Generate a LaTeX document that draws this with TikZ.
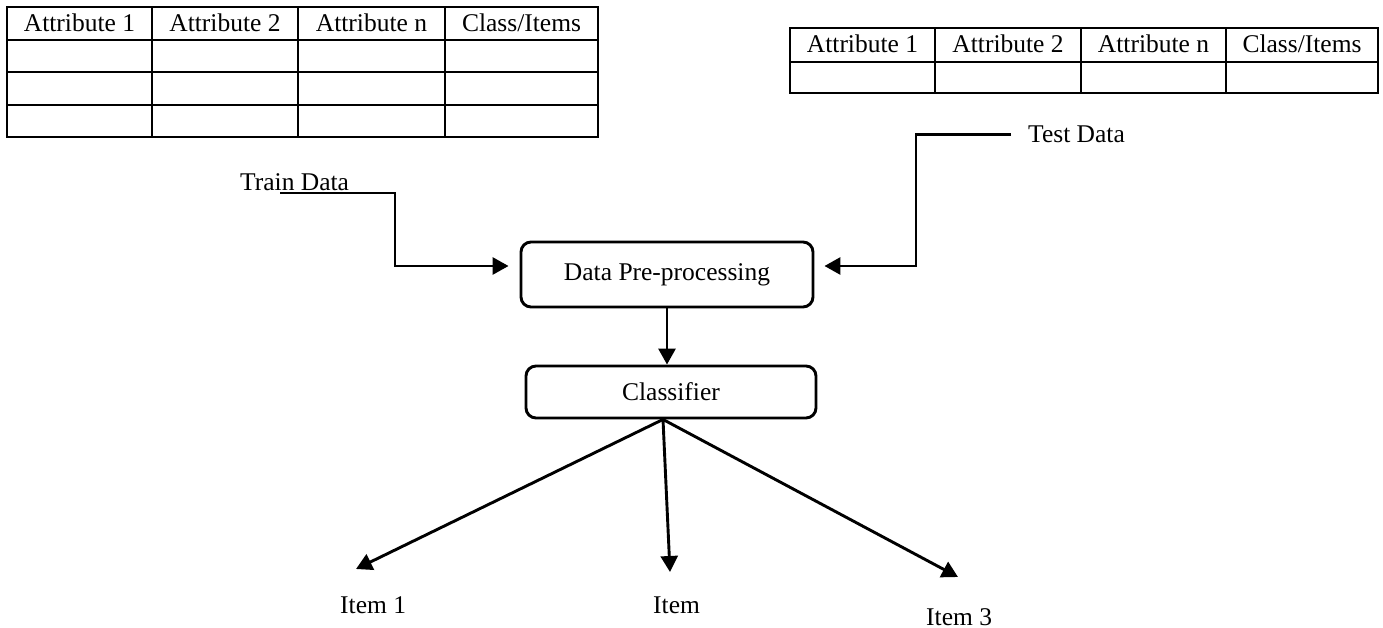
\documentclass[tikz,border=0pt]{standalone}
\usepackage{fontspec}
\setmainfont{Liberation Serif}
\usetikzlibrary{arrows.meta}
\begin{document}
\begin{tikzpicture}[x=1pt,y=-1pt,
  every node/.style={font=\fontsize{25.5}{30}\selectfont, inner sep=0pt},
  grid/.style={line width=2.9pt},
  hdr/.style={anchor=base},
  lblw/.style={anchor=base west},
  procbox/.style={draw, line width=2.9pt, rounded corners=10pt},
  arr/.style={line width=2.9pt, -{Triangle[length=16pt,width=17pt]}}
]
\useasboundingbox (0,0) rectangle (1383,628);

% ---- training table
\draw[grid] (7,7) rectangle (598,137);
\foreach \y in {40,72,105} \draw[grid] (7,\y) -- (598,\y);
\foreach \x in {152,298,445} \draw[grid] (\x,7) -- (\x,137);
\node[hdr] (ta1) at (79.5,32) {Attribute 1};
\node[hdr] (ta2) at (225,32) {Attribute 2};
\node[hdr] (tan) at (371.5,32) {Attribute n};
\node[hdr] (tac) at (521.5,32) {Class/Items};

% ---- test table
\draw[grid] (790,28) rectangle (1378,93);
\draw[grid] (790,62) -- (1378,62);
\foreach \x in {935,1081,1226} \draw[grid] (\x,28) -- (\x,93);
\node[hdr] (sa1) at (862.5,53) {Attribute 1};
\node[hdr] (sa2) at (1008,53) {Attribute 2};
\node[hdr] (san) at (1153.5,53) {Attribute n};
\node[hdr] (sac) at (1302,53) {Class/Items};

% ---- labels
\node[lblw] (train) at (240,191) {Train Data};
\node[lblw] (test) at (1028,143) {Test Data};
\coordinate (trs) at (280,193);

% ---- process boxes
\node[procbox, minimum width=292pt, minimum height=65pt] (pre) at (667,274.5) {Data Pre-processing};
\node[procbox, minimum width=290pt, minimum height=52pt] (cls) at (671,392) {Classifier};

% ---- inputs
\draw[arr, shorten >=11pt] (trs) -- ++(115,0) |- ([yshift=8.5pt]pre.west);
\draw[arr, shorten >=10pt] ([xshift=-17pt]test.west) -- ++(-95,0) |- ([yshift=8.5pt]pre.east);
\draw[arr] (pre.south) -- (pre.south |- cls.north);

% ---- outputs
\coordinate (cs) at ([xshift=-8pt]cls.south);
\coordinate (e1) at (356,569);
\coordinate (e2) at (670,572);
\coordinate (e3) at (958,577);
\node[lblw] (i1) at (340,613) {Item 1};
\node[lblw] (i2) at (653,613) {Item};
\node[lblw] (i3) at (926,625) {Item 3};
\draw[arr] (cs) -- (e1);
\draw[arr] (cs) -- (e2);
\draw[arr] (cs) -- (e3);
\end{tikzpicture}
\end{document}
